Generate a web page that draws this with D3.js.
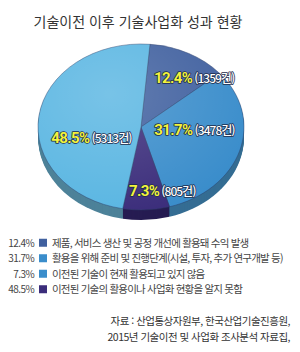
<!DOCTYPE html>
<html lang="ko">
<head>
<meta charset="utf-8">
<script src="https://d3js.org/d3.v7.min.js"></script>
<style>
  body { margin: 0; background: #fff; }
  text { font-family: "Noto Sans CJK KR", "Noto Sans", sans-serif; }
</style>
</head>
<body>
<div id="chart"></div>
<script>
// data
const percents = [12.4, 31.7, 7.3, 48.5];
const counts = [1359, 3478, 805, 5313];
const legendLabels = [
  "제품, 서비스 생산 및 공정 개선에 활용돼 수익 발생",
  "활용을 위해 준비 및 진행단계(시설, 투자, 추가 연구개발 등)",
  "이전된 기술이 현재 활용되고 있지 않음",
  "이전된 기술의 활용이나 사업화 현황을 알지 못함"
];
const sliceColors = ["#40609f", "#3a8dcb", "#3b2d7b", "#5ab6e2"];
const sideColors = ["#2f4677", "#356d93", "#261c52", "#4d8299"];
const legendColors = ["#40609f", "#3a8dcb", "#3a8dcb", "#3b2d7b"];
const title = "기술이전 이후 기술사업화 성과 현황";
const sourceLines = ["자료 : 산업통상자원부, 한국산업기술진흥원,", "2015년 기술이전 및 사업화 조사분석 자료집,"];

const width = 300, height = 352;
const svg = d3.select("#chart").append("svg")
  .attr("width", width).attr("height", height);

// title
svg.append("text")
  .attr("x", 138).attr("y", 27)
  .attr("text-anchor", "middle")
  .style("font-size", "14px")
  .style("fill", "#333")
  .text(title);

// 3D-ish pie: ellipse by scaling y
const cx = 141, cy = 127, rx = 103, ry = 83, depth = 10;
const pie = d3.pie().sort(null)
  .startAngle(5 * Math.PI / 180)
  .endAngle(5 * Math.PI / 180 + 2 * Math.PI);
const arcs = pie(percents);
const arc = d3.arc().innerRadius(0).outerRadius(rx);

// side
for (let k = depth; k >= 1; k--) {
  const g = svg.append("g")
    .attr("transform", `translate(${cx},${cy + k}) scale(1,${ry / rx})`);
  g.selectAll("path").data(arcs).join("path")
    .attr("d", arc)
    .attr("fill", (d, i) => sideColors[i]);
}

// top face
const defs = svg.append("defs");
const grad = defs.append("radialGradient").attr("id", "shine")
  .attr("cx", "35%").attr("cy", "30%").attr("r", "75%");
grad.append("stop").attr("offset", "0%").attr("stop-color", "#fff").attr("stop-opacity", 0.18);
grad.append("stop").attr("offset", "100%").attr("stop-color", "#fff").attr("stop-opacity", 0);

const face = svg.append("g")
  .attr("transform", `translate(${cx},${cy}) scale(1,${ry / rx})`);
face.selectAll("path.slice").data(arcs).join("path")
  .attr("class", "slice")
  .attr("d", arc)
  .attr("fill", (d, i) => sliceColors[i])
  .attr("stroke", "#2a3d66")
  .attr("stroke-width", 0.5);
face.append("circle").attr("r", rx).attr("fill", "url(#shine)");

// labels: angle shift (deg) and radius factor for each slice
const labelTweak = [[14, 0.78], [-13, 0.52], [-12, 0.8], [-23, 0.5]];
arcs.forEach((d, i) => {
  const a = (d.startAngle + d.endAngle) / 2 + labelTweak[i][0] * Math.PI / 180;
  const r = rx * labelTweak[i][1];
  const x = cx + r * Math.sin(a);
  const y = cy - r * Math.cos(a) * ry / rx;
  const t = svg.append("text")
    .attr("x", x).attr("y", y + 5)
    .attr("text-anchor", "middle")
    .style("paint-order", "stroke")
    .style("stroke", "#1d2b4a")
    .style("stroke-width", "1.5px")
    .style("stroke-linejoin", "round");
  t.append("tspan")
    .style("font-family", "Roboto, sans-serif")
    .style("font-weight", "bold")
    .style("font-size", "15px")
    .style("fill", "#f3f33c")
    .style("letter-spacing", "-0.6px")
    .text(d3.format(".1f")(percents[i]) + "%");
  t.append("tspan")
    .attr("dx", 2)
    .style("font-size", "12px")
    .style("font-weight", "500")
    .style("fill", "#fff")
    .style("letter-spacing", "-1px")
    .text("(" + counts[i] + "건)");
});

// legend
const ly = d3.scaleBand().domain(d3.range(legendLabels.length)).range([235, 297]);
const leg = svg.append("g").selectAll("g").data(legendLabels).join("g")
  .attr("transform", (d, i) => `translate(0,${ly(i) + ly.bandwidth() / 2})`);
leg.append("text")
  .attr("x", 34).attr("y", 4)
  .attr("text-anchor", "end")
  .style("font-size", "10px")
  .style("fill", "#444")
  .style("letter-spacing", "-0.6px")
  .text((d, i) => d3.format(".1f")(percents[i]) + "%");
leg.append("rect")
  .attr("x", 39).attr("y", -4).attr("width", 8).attr("height", 8)
  .attr("fill", (d, i) => legendColors[i]);
leg.append("text")
  .attr("x", 52).attr("y", 4)
  .style("font-size", "10.5px")
  .style("fill", "#444")
  .style("letter-spacing", "-0.8px")
  .text(d => d);

// source
svg.append("g").selectAll("text").data(sourceLines).join("text")
  .attr("x", 290).attr("y", (d, i) => 325 + i * 16)
  .attr("text-anchor", "end")
  .style("font-size", "10.5px")
  .style("fill", "#333")
  .style("letter-spacing", "-0.5px")
  .text(d => d);
</script>
</body>
</html>
